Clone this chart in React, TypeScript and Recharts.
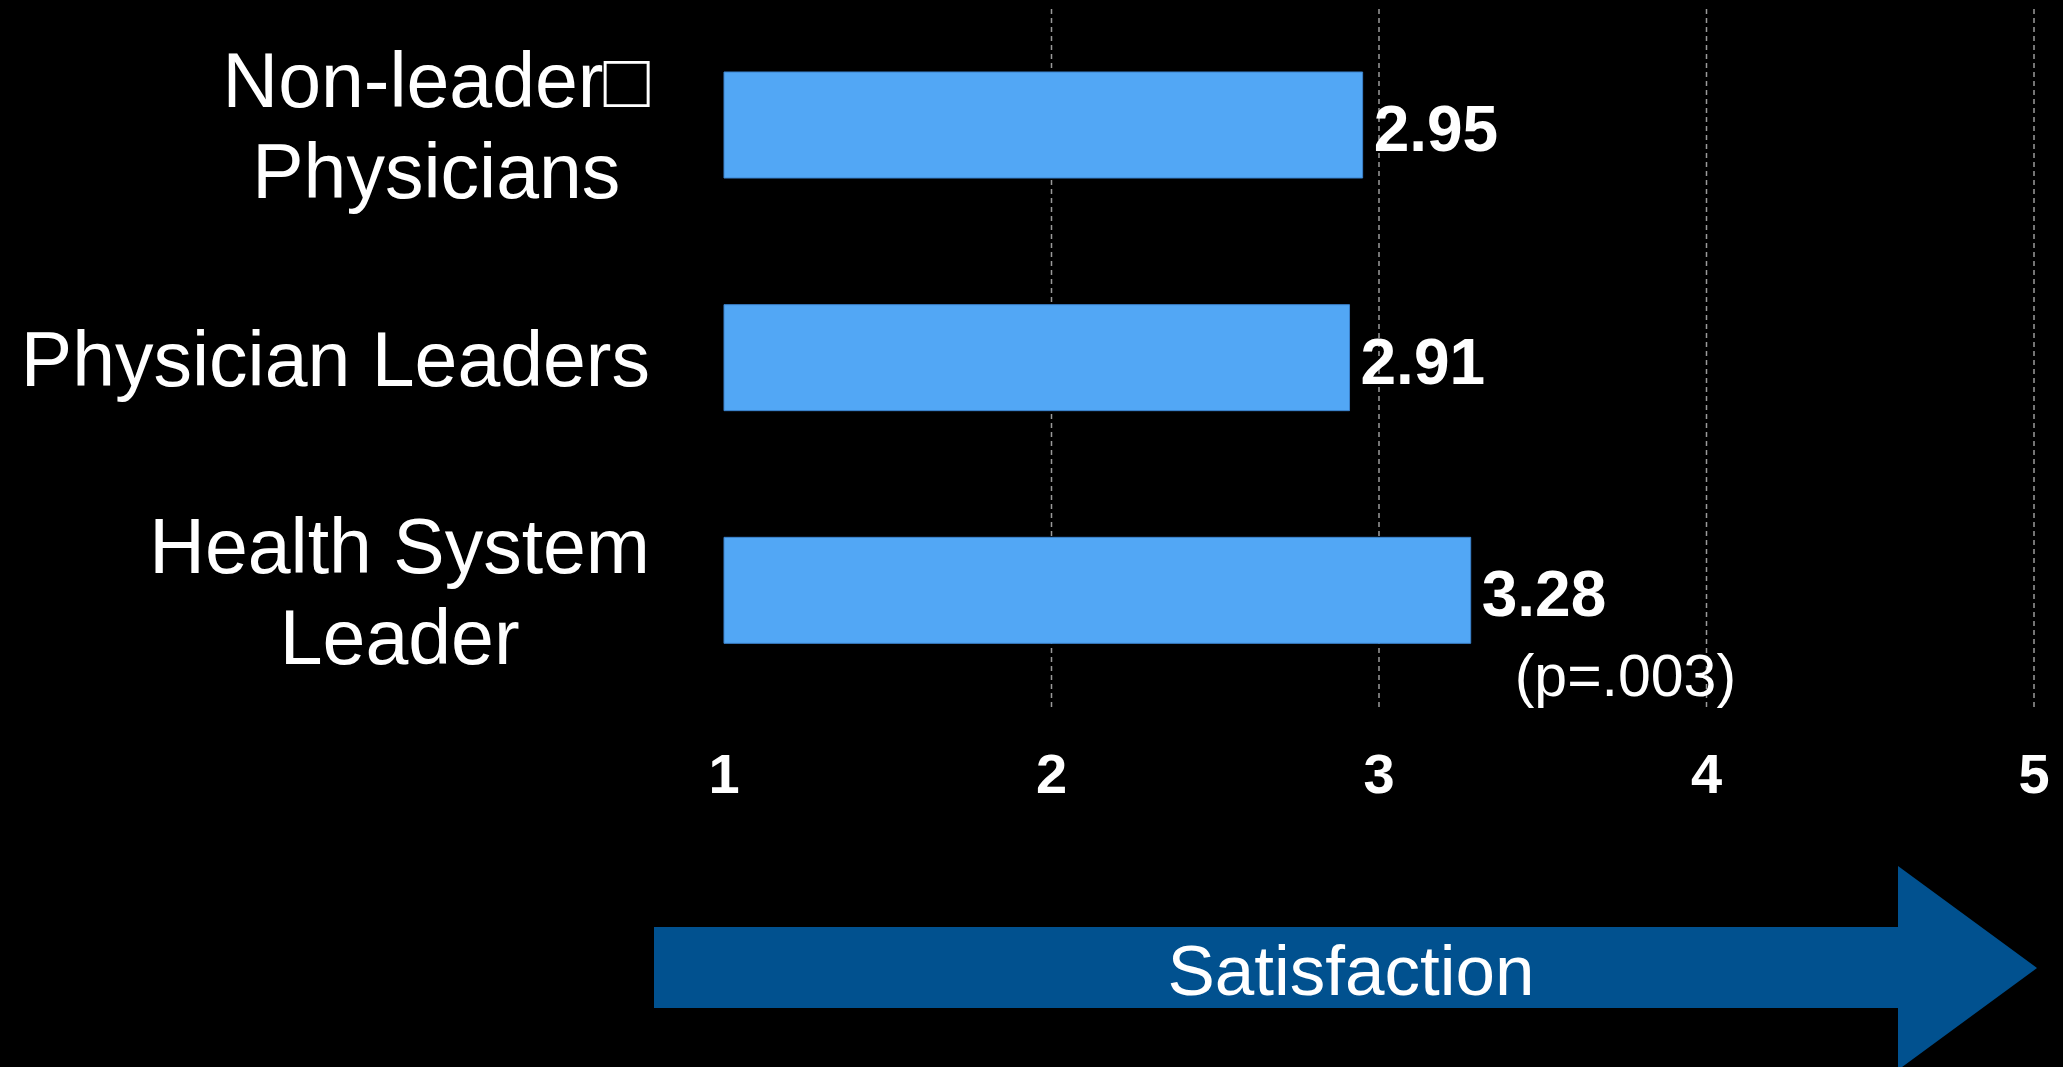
import React from 'react';
import { BarChart, Bar, XAxis, YAxis, CartesianGrid, LabelList } from 'recharts';

const groups = ['Non-leader\u25A1\nPhysicians', 'Physician Leaders', 'Health System\nLeader'];
const scores = [2.95, 2.91, 3.28];
const notes = ['', '', '(p=.003)'];
const xTicks = [1, 2, 3, 4, 5];
const gridTicks = [2, 3, 4, 5];
const arrowLabel = 'Satisfaction';

const data = groups.map((name, i) => ({ name, score: scores[i] }));

const FONT = '"Liberation Sans", Arial, sans-serif';

let ctx: CanvasRenderingContext2D | null = null;
const textWidth = (t: string, size: number) => {
  if (!ctx) ctx = document.createElement('canvas').getContext('2d');
  if (!ctx) return t.length * size * 0.5;
  ctx.font = `${size}px "Liberation Sans", Arial, sans-serif`;
  return ctx.measureText(t).width;
};

// category labels: multi-line ones are centred on their widest line, block right-aligned
const GroupTick = (props: any) => {
  const { x, y, payload } = props;
  const lines = String(payload.value).split('\n');
  const fs = 77;
  const lh = 91;
  const cap = 55;
  const first = y - (cap + lh * (lines.length - 1)) / 2 + cap;
  if (lines.length === 1) {
    return (
      <text x={x} y={first} textAnchor="end" fill="#fff" fontSize={fs} fontFamily={FONT}>
        {lines[0]}
      </text>
    );
  }
  const w = Math.max(...lines.map((l) => textWidth(l, fs)));
  const cx = x - w / 2;
  return (
    <text textAnchor="middle" fill="#fff" fontSize={fs} fontFamily={FONT}>
      {lines.map((l, i) => (
        <tspan key={i} x={cx} y={first + i * lh}>
          {l}
        </tspan>
      ))}
    </text>
  );
};

const ValueLabel = (props: any) => {
  const vb = props.viewBox ?? props;
  const { x, y, width, height } = vb;
  const end = x + width;
  const cy = y + height / 2;
  const note = notes[props.index] ?? '';
  return (
    <g>
      <text x={end + 11} y={cy + 26} fill="#fff" fontSize={64} fontWeight="bold" fontFamily={FONT}>
        {Number(props.value).toFixed(2)}
      </text>
      {note && (
        <text x={end + 44} y={cy + 106} fill="#fff" fontSize={59} fontFamily={FONT}>
          {note}
        </text>
      )}
    </g>
  );
};

// dashed verticals only at 2..5, placed with the x axis scale
const gridX = ({ xAxis }: any) => {
  const s = xAxis?.scale;
  if (typeof s === 'function') return gridTicks.map((v) => s(v));
  if (s && typeof s.map === 'function') return gridTicks.map((v) => s.map(v));
  return [];
};

export default function App() {
  return (
    <div style={{ position: 'relative', width: 2063, height: 1067, background: '#000' }}>
      <style>{'body{margin:0;overflow:hidden;background:#000}'}</style>
      <BarChart
        width={2063}
        height={1067}
        data={data}
        layout="vertical"
        margin={{ top: 9, right: 29, left: 0, bottom: 280 }}
      >
        <CartesianGrid
          horizontal={false}
          verticalCoordinatesGenerator={gridX}
          stroke="#9a9a9a"
          strokeWidth={1.5}
          strokeDasharray="5 4"
        />
        <XAxis
          type="number"
          domain={[1, 5]}
          ticks={xTicks}
          interval={0}
          axisLine={false}
          tickLine={false}
          tickSize={6}
          tickMargin={40}
          height={80}
          tick={{ fill: '#fff', fontSize: 56, fontWeight: 'bold', fontFamily: FONT }}
        />
        <YAxis
          type="category"
          dataKey="name"
          width={724}
          axisLine={false}
          tickLine={false}
          tickSize={6}
          tickMargin={68}
          interval={0}
          tick={<GroupTick />}
        />
        <Bar dataKey="score" fill="#52a7f5" stroke="#3b82cc" strokeWidth={1} barSize={106} isAnimationActive={false}>
          <LabelList dataKey="score" content={<ValueLabel />} />
        </Bar>
      </BarChart>
      <svg width={2063} height={1067} style={{ position: 'absolute', left: 0, top: 0, pointerEvents: 'none' }}>
        <polygon
          points="654,927 1898,927 1898,866 2037,968 1898,1070 1898,1008 654,1008"
          fill="#01518f"
        />
        <text x={1351} y={995} textAnchor="middle" fill="#fff" fontSize={71} fontFamily={FONT}>
          {arrowLabel}
        </text>
      </svg>
    </div>
  );
}
